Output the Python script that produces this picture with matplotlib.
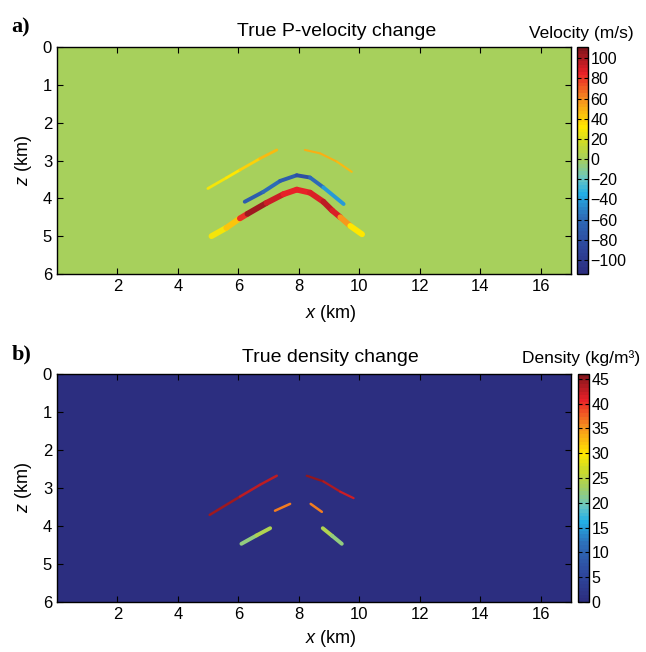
import numpy as np
import matplotlib
matplotlib.use("Agg")
import matplotlib.pyplot as plt
from matplotlib.colors import LinearSegmentedColormap, Normalize
from matplotlib.collections import LineCollection

plt.rcParams['font.family'] = ['Liberation Sans', 'DejaVu Sans']

# ---- data (x km, z km, value) ----
# panel a: P-velocity change (m/s)
vel_top_left_x = [4.99, 5.6, 6.05, 6.71, 7.27]
vel_top_left_z = [3.74, 3.46, 3.25, 2.95, 2.72]
vel_top_left_v = [24, 30, 36, 42, 50]

vel_top_right_x = [8.2, 8.7, 9.26, 9.75]
vel_top_right_z = [2.72, 2.81, 3.03, 3.3]
vel_top_right_v = [50, 52, 50, 45]

vel_mid_x = [6.21, 6.82, 7.38, 7.93, 8.37, 8.81, 9.48]
vel_mid_z = [4.09, 3.83, 3.54, 3.39, 3.45, 3.71, 4.15]
vel_mid_v = [-75, -62, -55, -88, -72, -45, -40]

vel_low_x = [5.11, 5.6, 6.05, 6.3, 6.93, 7.49, 7.93, 8.37, 8.81, 9.1, 9.37, 9.7, 10.09]
vel_low_z = [5.00, 4.78, 4.53, 4.41, 4.12, 3.89, 3.77, 3.85, 4.09, 4.32, 4.5, 4.73, 4.95]
vel_low_v = [25, 32, 55, 105, 100, 85, 85, 85, 88, 100, 75, 40, 22]

# panel b: density change (kg/m3)
den_top_left_x = [5.05, 6.05, 6.71, 7.27]
den_top_left_z = [3.71, 3.23, 2.92, 2.68]
den_top_left_v = [45, 43, 42, 44]

den_top_right_x = [8.26, 8.81, 9.37, 9.81]
den_top_right_z = [2.68, 2.83, 3.1, 3.27]
den_top_right_v = [45, 45, 42, 42]

den_mid_left_x = [7.21, 7.71]
den_mid_left_z = [3.6, 3.42]
den_mid_right_x = [8.39, 8.76]
den_mid_right_z = [3.42, 3.63]
den_mid_v = [36, 36]

den_low_left_x = [6.1, 6.6, 7.05]
den_low_left_z = [4.47, 4.25, 4.06]
den_low_left_v = [20, 24, 24]
den_low_right_x = [8.79, 9.1, 9.42]
den_low_right_z = [4.06, 4.26, 4.47]
den_low_right_v = [24, 24, 20]

vel_range = (-114, 111)
den_range = (0, 46)
x_ticks = [2, 4, 6, 8, 10, 12, 14, 16]
z_ticks = [0, 1, 2, 3, 4, 5, 6]
vel_ticks = [-100, -80, -60, -40, -20, 0, 20, 40, 60, 80, 100]
den_ticks = [0, 5, 10, 15, 20, 25, 30, 35, 40, 45]

# printed-looking jet
jet_print = LinearSegmentedColormap.from_list("jet_print", [
    (0.00, (44/255, 46/255, 128/255)),
    (0.12, (46/255, 72/255, 158/255)),
    (0.25, (45/255, 110/255, 185/255)),
    (0.35, (35/255, 175/255, 230/255)),
    (0.42, (105/255, 198/255, 195/255)),
    (0.50, (163/255, 207/255, 98/255)),
    (0.58, (205/255, 220/255, 40/255)),
    (0.65, (255/255, 232/255, 0/255)),
    (0.77, (246/255, 146/255, 30/255)),
    (0.89, (232/255, 32/255, 40/255)),
    (1.00, (130/255, 22/255, 28/255)),
], N=64)


def band(ax, xs, zs, vs, norm, lw):
    pts = np.column_stack([xs, zs])
    segs = np.stack([pts[:-1], pts[1:]], axis=1)
    vals = (np.array(vs[:-1]) + np.array(vs[1:])) / 2.0
    lc = LineCollection(segs, cmap=jet_print, norm=norm, linewidths=lw,
                        capstyle='round', joinstyle='round')
    lc.set_array(vals)
    ax.add_collection(lc)


def style(ax, label_y):
    ax.set_xlim(0, 17)
    ax.set_ylim(6, 0)
    ax.set_xticks(x_ticks)
    ax.set_yticks(z_ticks)
    ax.tick_params(direction='in', length=4, top=True, right=True, labelsize=12, width=0.8)
    for s in ax.spines.values():
        s.set_linewidth(1.0)
    ax.set_xlabel(r'$x$ (km)', fontsize=13)
    ax.set_ylabel(r'$z$ (km)', fontsize=13, labelpad=6)
    ax.xaxis.set_label_coords(0.533, label_y)


plt.rcParams['mathtext.fontset'] = 'custom'
plt.rcParams['mathtext.it'] = 'Liberation Sans:italic'
plt.rcParams['mathtext.rm'] = 'Liberation Sans'

fig = plt.figure(figsize=(6.46, 6.52), dpi=100)

# ---- panel a ----
ax1 = fig.add_axes([0.0882, 0.5798, 0.7957, 0.348])
norm1 = Normalize(*vel_range)
im1 = ax1.imshow(np.zeros((60, 170)), extent=[0, 17, 6, 0], cmap=jet_print,
                 norm=norm1, aspect='auto', interpolation='nearest')
band(ax1, vel_top_left_x, vel_top_left_z, vel_top_left_v, norm1, 2.0)
band(ax1, vel_top_right_x, vel_top_right_z, vel_top_right_v, norm1, 1.5)
band(ax1, vel_mid_x, vel_mid_z, vel_mid_v, norm1, 2.8)
band(ax1, vel_low_x, vel_low_z, vel_low_v, norm1, 4.2)
style(ax1, -0.13)
ax1.text(0.545, 1.07, 'True P-velocity change', transform=ax1.transAxes,
         ha='center', va='center', fontsize=14)

cax1 = fig.add_axes([0.893, 0.5798, 0.017, 0.348])
cb1 = fig.colorbar(im1, cax=cax1, ticks=vel_ticks)
cax1.tick_params(direction='in', length=3, left=True, right=True, labelsize=11.5, pad=2)
cb1.outline.set_linewidth(1.0)
fig.text(0.90, 0.949, 'Velocity (m/s)', ha='center', va='center', fontsize=12.5)

# ---- panel b ----
ax2 = fig.add_axes([0.0882, 0.0767, 0.7957, 0.35])
norm2 = Normalize(*den_range)
im2 = ax2.imshow(np.zeros((60, 170)), extent=[0, 17, 6, 0], cmap=jet_print,
                 norm=norm2, aspect='auto', interpolation='nearest')
band(ax2, den_top_left_x, den_top_left_z, den_top_left_v, norm2, 1.8)
band(ax2, den_top_right_x, den_top_right_z, den_top_right_v, norm2, 1.6)
band(ax2, den_mid_left_x, den_mid_left_z, den_mid_v, norm2, 1.8)
band(ax2, den_mid_right_x, den_mid_right_z, den_mid_v, norm2, 1.8)
band(ax2, den_low_left_x, den_low_left_z, den_low_left_v, norm2, 2.8)
band(ax2, den_low_right_x, den_low_right_z, den_low_right_v, norm2, 2.8)
style(ax2, -0.112)
ax2.text(0.531, 1.07, 'True density change', transform=ax2.transAxes,
         ha='center', va='center', fontsize=14)

cax2 = fig.add_axes([0.895, 0.0767, 0.016, 0.35])
cb2 = fig.colorbar(im2, cax=cax2, ticks=den_ticks)
cax2.tick_params(direction='in', length=3, left=True, right=True, labelsize=11.5, pad=2)
cb2.outline.set_linewidth(1.0)
fig.text(0.90, 0.451, 'Density (kg/m³)', ha='center', va='center', fontsize=12.5)

# panel letters
fig.text(0.018, 0.958, 'a)', fontsize=16, fontweight='bold', family='Liberation Serif',
         ha='left', va='center')
fig.text(0.018, 0.456, 'b)', fontsize=16, fontweight='bold', family='Liberation Serif',
         ha='left', va='center')

fig.savefig('out.png', dpi=100)
